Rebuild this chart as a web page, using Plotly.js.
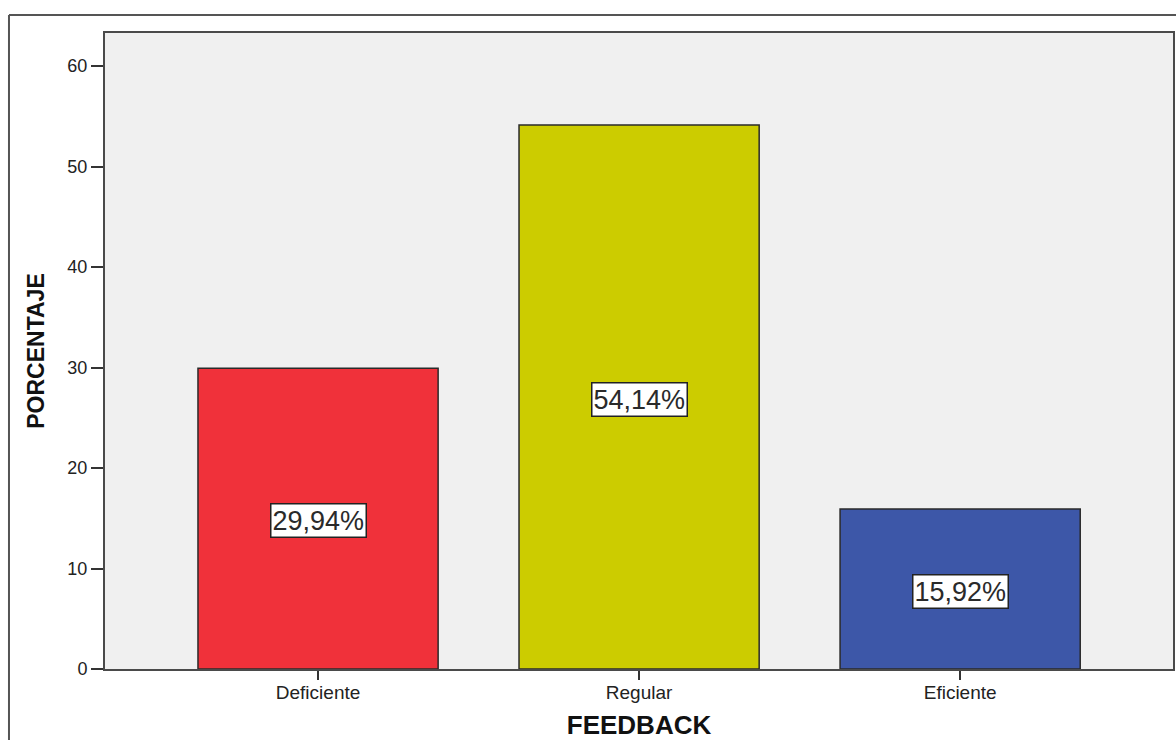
<!DOCTYPE html>
<html>
<head>
<meta charset="utf-8">
<script src="https://cdn.plot.ly/plotly-3.0.1.min.js"></script>
<style>
html,body{margin:0;padding:0;background:#fff;}
#chart{width:1176px;height:740px;}
</style>
</head>
<body>
<div id="chart"></div>
<script>
const categories = ["Deficiente", "Regular", "Eficiente"];
const percentages = [29.94, 54.14, 15.92];
const valueLabels = ["29,94%", "54,14%", "15,92%"];
const barColors = ["#F0313A", "#CCCC00", "#3D57A8"];
const yTicks = [0, 10, 20, 30, 40, 50, 60];

const trace = {
  type: "bar",
  x: categories,
  y: percentages,
  width: 0.748,
  marker: {color: barColors, line: {color: "#2a2a2a", width: 1.5}},
  hoverinfo: "none"
};

const annotations = categories.map((c, i) => ({
  x: c,
  y: percentages[i] / 2,
  xref: "x",
  yref: "y",
  yshift: -2,
  text: valueLabels[i],
  showarrow: false,
  bgcolor: "#ffffff",
  bordercolor: "#222222",
  borderwidth: 1.5,
  borderpad: 1,
  font: {family: "Liberation Sans, Arial, sans-serif", size: 27, color: "#2a2a2a"}
}));

const layout = {
  width: 1176,
  height: 740,
  margin: {l: 105, r: 3, t: 33, b: 71},
  paper_bgcolor: "#ffffff",
  plot_bgcolor: "#f0f0f0",
  showlegend: false,
  font: {family: "Liberation Sans, Arial, sans-serif", color: "#222222"},
  xaxis: {
    type: "category",
    range: [-0.6636, 2.663],
    showgrid: false,
    zeroline: false,
    showline: true,
    mirror: true,
    linecolor: "#4a4a4a",
    linewidth: 2,
    ticks: "outside",
    ticklen: 9,
    tickwidth: 2,
    tickcolor: "#333333",
    ticklabelstandoff: -4,
    tickfont: {size: 19, color: "#222222"},
    title: {text: "FEEDBACK", font: {size: 26, color: "#111111", weight: "bold"}, standoff: 16}
  },
  yaxis: {
    range: [0, 63.3],
    tickvals: yTicks,
    showgrid: false,
    zeroline: false,
    showline: true,
    mirror: true,
    linecolor: "#4a4a4a",
    linewidth: 2,
    ticks: "outside",
    ticklen: 12,
    tickwidth: 2,
    tickcolor: "#333333",
    tickfont: {size: 18, color: "#222222"},
    title: {text: "PORCENTAJE", font: {size: 23, color: "#111111", weight: "bold"}, standoff: 16}
  },
  annotations: annotations,
  shapes: [
    {type: "line", xref: "paper", yref: "paper", x0: -0.0899, x1: 1.2, y0: 1.0283, y1: 1.0283,
     line: {color: "#555555", width: 2}},
    {type: "line", xref: "paper", yref: "paper", x0: -0.0899, x1: -0.0899, y0: 1.0283, y1: -0.2,
     line: {color: "#555555", width: 2}}
  ]
};

Plotly.newPlot("chart", [trace], layout, {displayModeBar: false, staticPlot: true});
</script>
</body>
</html>
